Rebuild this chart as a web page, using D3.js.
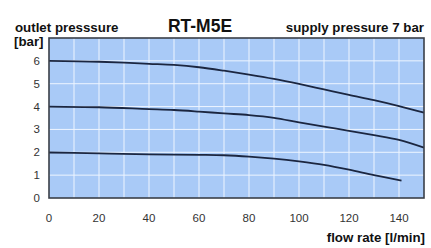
<!DOCTYPE html>
<html>
<head>
<meta charset="utf-8">
<script src="https://cdn.jsdelivr.net/npm/d3@7"></script>
<style>
  body { margin: 0; background: #fff; }
  svg { display: block; font-family: "Liberation Sans", Arial, sans-serif; }
</style>
</head>
<body>
<svg width="431" height="248"></svg>
<script>
// flow rate [l/min] sample points for each curve
const flow6 = [0, 20, 30, 40, 50, 60, 70, 80, 90, 100, 110, 120, 130, 140, 150];
const pressure6 = [6.0, 5.96, 5.92, 5.87, 5.82, 5.72, 5.57, 5.4, 5.21, 4.99, 4.75, 4.51, 4.28, 4.02, 3.73];

const flow4 = [0, 20, 40, 50, 60, 70, 80, 90, 100, 110, 120, 130, 140, 150];
const pressure4 = [4.0, 3.97, 3.89, 3.85, 3.78, 3.7, 3.63, 3.51, 3.31, 3.12, 2.94, 2.75, 2.54, 2.2];

const flow2 = [0, 20, 40, 60, 70, 80, 90, 100, 110, 120, 130, 141];
const pressure2 = [1.99, 1.95, 1.91, 1.89, 1.87, 1.81, 1.72, 1.6, 1.45, 1.24, 1.0, 0.76];

const xTicks = [0, 20, 40, 60, 80, 100, 120, 140];
const yTicks = [0, 1, 2, 3, 4, 5, 6];

const svg = d3.select('svg');
const plotLeft = 49, plotRight = 424, plotTop = 38, plotBottom = 198;

const x = d3.scaleLinear().domain([0, 150]).range([plotLeft, plotRight]);
const y = d3.scaleLinear().domain([0, 7]).range([plotBottom, plotTop]);

// plot background
svg.append('rect')
  .attr('x', plotLeft).attr('y', plotTop)
  .attr('width', plotRight - plotLeft).attr('height', plotBottom - plotTop)
  .attr('fill', '#a9caf7');

// grid
const grid = svg.append('g').attr('stroke', '#eef5ff').attr('stroke-width', 1);
grid.selectAll('line.v').data(d3.range(10, 150, 10)).enter().append('line')
  .attr('x1', d => x(d)).attr('x2', d => x(d))
  .attr('y1', plotTop).attr('y2', plotBottom);
grid.selectAll('line.h').data(d3.range(1, 7)).enter().append('line')
  .attr('x1', plotLeft).attr('x2', plotRight)
  .attr('y1', d => y(d)).attr('y2', d => y(d));

// curves
const line = d3.line().curve(d3.curveMonotoneX);
const series = [[flow6, pressure6], [flow4, pressure4], [flow2, pressure2]];
svg.append('g').selectAll('path').data(series).enter().append('path')
  .attr('d', s => line(s[0].map((f, i) => [x(f), y(s[1][i])])))
  .attr('fill', 'none')
  .attr('stroke', '#1b2640')
  .attr('stroke-width', 1.8);

// border
svg.append('rect')
  .attr('x', plotLeft).attr('y', plotTop)
  .attr('width', plotRight - plotLeft).attr('height', plotBottom - plotTop)
  .attr('fill', 'none').attr('stroke', '#3a3f48').attr('stroke-width', 1.6);

// tick labels
svg.append('g').selectAll('text').data(xTicks).enter().append('text')
  .attr('x', d => x(d)).attr('y', 222)
  .attr('text-anchor', 'middle')
  .attr('font-size', 11.5).attr('fill', '#333')
  .text(d => d);

svg.append('g').selectAll('text').data(yTicks).enter().append('text')
  .attr('x', 40).attr('y', d => y(d) + 4)
  .attr('text-anchor', 'end')
  .attr('font-size', 11.5).attr('fill', '#333')
  .text(d => d);

// titles
svg.append('text').attr('x', 200).attr('y', 32)
  .attr('text-anchor', 'middle').attr('font-size', 17.5).attr('font-weight', 'bold')
  .attr('fill', '#111').text('RT-M5E');
svg.append('text').attr('x', 15).attr('y', 32)
  .attr('font-size', 13.3).attr('font-weight', 'bold').attr('fill', '#111')
  .text('outlet presssure');
svg.append('text').attr('x', 14).attr('y', 46)
  .attr('font-size', 13.3).attr('font-weight', 'bold').attr('fill', '#111')
  .text('[bar]');
svg.append('text').attr('x', 424).attr('y', 32)
  .attr('text-anchor', 'end')
  .attr('font-size', 13.3).attr('font-weight', 'bold').attr('fill', '#111')
  .text('supply pressure 7 bar');
svg.append('text').attr('x', 425).attr('y', 242)
  .attr('text-anchor', 'end')
  .attr('font-size', 13.3).attr('font-weight', 'bold').attr('fill', '#111')
  .text('flow rate [l/min]');
</script>
</body>
</html>
